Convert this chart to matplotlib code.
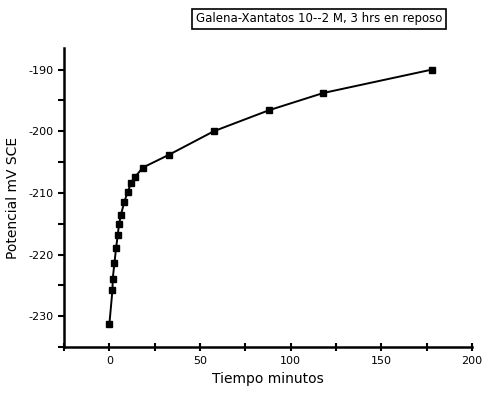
import matplotlib
matplotlib.use('Agg')
import matplotlib.pyplot as plt
from matplotlib.ticker import MultipleLocator

plt.rcParams['axes.unicode_minus'] = False

# data
tiempo = [0, 1.7, 1.8, 2.8, 3.7, 4.6, 5.3, 6.3, 8.3, 10.1, 12, 14.2, 18.4, 33, 57.6, 88, 118, 178]
potencial = [-231.2, -225.7, -224, -221.3, -218.9, -216.8, -215.1, -213.6, -211.4, -209.8,
             -208.4, -207.4, -205.9, -203.8, -200, -196.6, -193.8, -190]
titulo = "Galena-Xantatos 10--2 M, 3 hrs en reposo"

fig = plt.figure(figsize=(4.82, 3.95), dpi=100)
ax = fig.add_axes([0.133, 0.1215, 0.846, 0.757])

ax.plot(tiempo, potencial, color='black', lw=1.4, marker='s', ms=4.5)

ax.set_xlim(-25, 200)
ax.set_ylim(-235, -186.5)
ax.xaxis.set_major_locator(MultipleLocator(50))
ax.xaxis.set_minor_locator(MultipleLocator(25))
ax.yaxis.set_major_locator(MultipleLocator(10))
ax.yaxis.set_minor_locator(MultipleLocator(5))
ax.tick_params(axis='x', which='both', direction='inout', length=6, width=1.5, labelsize=8)
ax.tick_params(axis='y', which='both', direction='out', length=4, width=1.5, labelsize=8)

for s in ['top', 'right']:
    ax.spines[s].set_visible(False)
for s in ['left', 'bottom']:
    ax.spines[s].set_linewidth(1.8)

ax.set_xlabel('Tiempo minutos', fontsize=10)
ax.set_ylabel('Potencial mV SCE', fontsize=10, labelpad=6)

fig.text(0.662, 0.953, titulo, ha='center', va='center', fontsize=8.5,
         bbox=dict(boxstyle='square,pad=0.3', fc='white', ec='black', lw=1.2))

plt.savefig('out.png')
